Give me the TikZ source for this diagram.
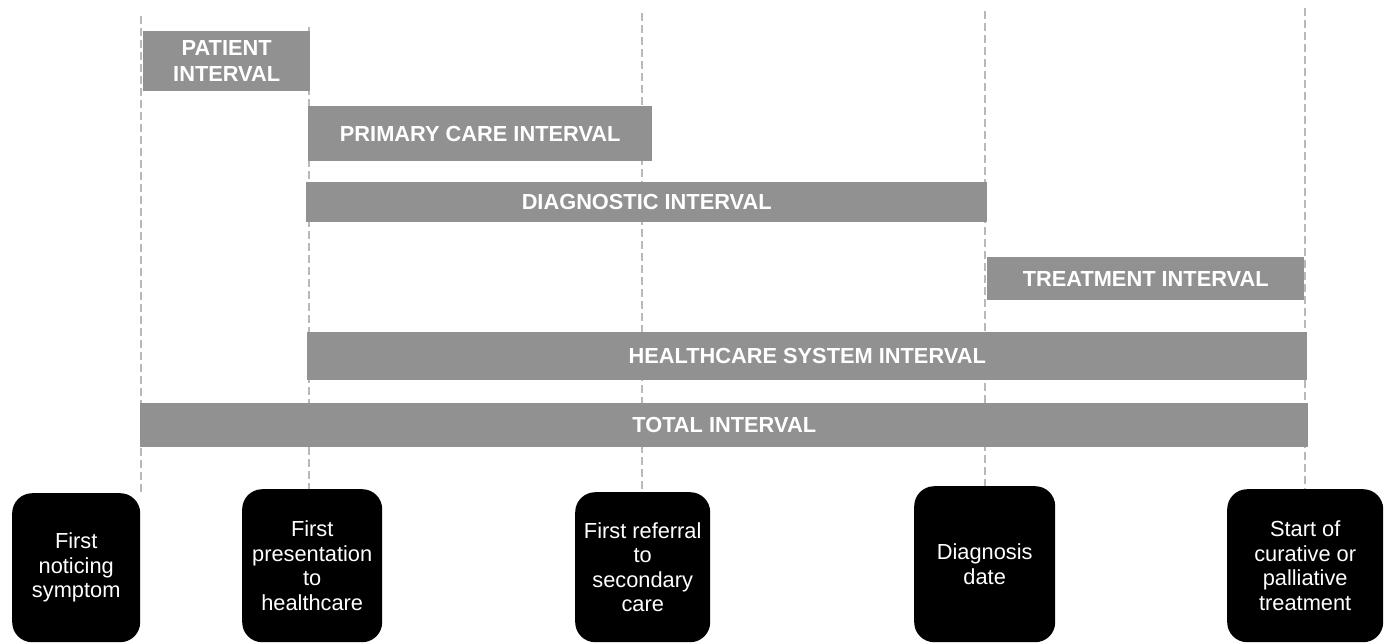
\documentclass[tikz,border=0pt]{standalone}
\usepackage{fontspec}
\setmainfont{Liberation Sans}
\definecolor{bargray}{RGB}{145,145,145}
\definecolor{guidegray}{RGB}{185,185,185}
\tikzset{
  event/.style={rectangle, rounded corners=20pt, fill=black, text=white, align=center,
    anchor=north west, inner sep=2pt, font=\fontsize{21.8}{24.5}\selectfont},
  interval/.style={rectangle, fill=bargray, text=white, align=center,
    anchor=north west, inner sep=2pt, font=\fontsize{21.8}{26}\selectfont\bfseries},
  guide/.style={draw=guidegray, line width=2.4pt, dash pattern=on 8pt off 4pt}
}
\begin{document}
\begin{tikzpicture}[x=1pt,y=-1pt]
  \useasboundingbox (0,0) rectangle (1389,643);
  % events
  \node (symptom) [event, minimum width=128pt, minimum height=149pt] at (12,493) {First\\noticing\\symptom};
  \node (presentation) [event, minimum width=140pt, minimum height=153pt] at (242,489) {First\\presentation\\to\\healthcare};
  \node (referral) [event, minimum width=135pt, minimum height=150pt] at (575,492) {First referral\\to\\secondary\\care};
  \node (diagnosis) [event, minimum width=141pt, minimum height=156pt] at (914,486) {Diagnosis\\date};
  \node (treatment) [event, minimum width=156pt, minimum height=153pt] at (1227,489) {Start of\\curative or\\palliative\\treatment};
  % guide lines
  \coordinate (g1) at (141,16);
  \coordinate (g2) at (309,27);
  \coordinate (g3) at (642,13);
  \coordinate (g4) at (985,11);
  \coordinate (g5) at (1305,8);
  \foreach \g/\e in {g1/symptom, g2/presentation, g3/referral, g4/diagnosis, g5/treatment}
    \draw[guide] (\g) -- (\g |- \e.north);
  % intervals
  \node (patient) [interval, minimum width=167pt, minimum height=60pt] at (143,31) {PATIENT\\INTERVAL};
  \node (primary) [interval, minimum width=344pt, minimum height=55pt] at (308,106) {PRIMARY CARE INTERVAL};
  \node (diagnostic) [interval, minimum width=681pt, minimum height=40pt] at (306,182) {DIAGNOSTIC INTERVAL};
  \node (treat) [interval, minimum width=317pt, minimum height=43pt] at (987,257) {TREATMENT INTERVAL};
  \node (system) [interval, minimum width=1000pt, minimum height=48pt] at (307,332) {HEALTHCARE SYSTEM INTERVAL};
  \node (total) [interval, minimum width=1168pt, minimum height=44pt] at (140,403) {TOTAL INTERVAL};
\end{tikzpicture}
\end{document}
